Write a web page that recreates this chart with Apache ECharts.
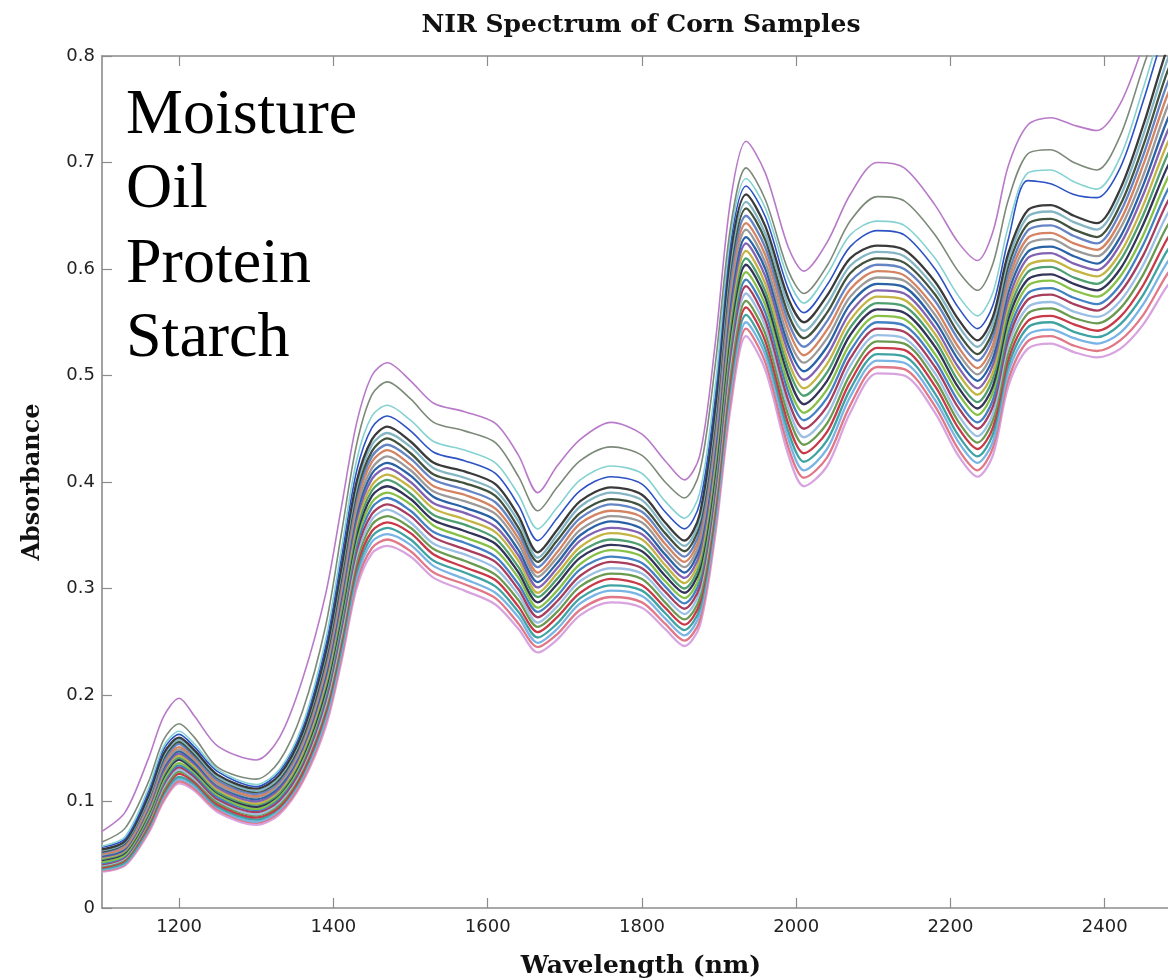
<!DOCTYPE html>
<html><head><meta charset="utf-8">
<script src="https://cdn.jsdelivr.net/npm/echarts@6/dist/echarts.min.js"></script>
<style>html,body{margin:0;padding:0;background:#fff}#chart{width:1168px;height:980px}</style>
</head><body><div id="chart"></div>
<script>
// Wavelength sample points (nm)
const wavelengths = [1100,1130,1160,1180,1200,1220,1250,1300,1330,1360,1390,1410,1430,1450,1470,1500,1530,1570,1610,1640,1665,1690,1720,1760,1800,1830,1855,1875,1895,1915,1935,1960,1990,2010,2040,2070,2105,2140,2180,2210,2235,2255,2275,2300,2330,2360,2390,2420,2450,2480,2500];
const xTickValues = [1200,1400,1600,1800,2000,2200,2400];
const constituents = ['Moisture','Oil','Protein','Starch'];
const chartTitle = 'NIR Spectrum of Corn Samples';
const xName = 'Wavelength (nm)';
const yName = 'Absorbance';

// Individually read outlying spectra (absorbance at each wavelength)
const sampleMagenta = [.072,.090,.140,.180,.197,.180,.152,.139,.160,.215,.295,.375,.455,.500,.512,.495,.474,.466,.455,.425,.390,.415,.440,.456,.445,.420,.402,.425,.530,.665,.720,.690,.620,.598,.625,.670,.700,.695,.660,.625,.608,.635,.697,.735,.742,.735,.730,.755,.810,.870,.900];
const sampleGray = [.062,.075,.118,.158,.173,.160,.132,.121,.138,.185,.265,.350,.435,.482,.494,.478,.456,.448,.437,.405,.373,.395,.420,.433,.425,.400,.385,.410,.510,.640,.695,.665,.598,.577,.603,.645,.668,.664,.632,.598,.580,.605,.665,.708,.712,.700,.693,.725,.790,.850,.880];
const sampleCyan = [.058,.067,.112,.152,.166,.154,.130,.116,.130,.172,.252,.335,.420,.462,.472,.458,.438,.430,.418,.388,.356,.376,.402,.415,.408,.382,.366,.390,.490,.632,.685,.657,.590,.568,.595,.632,.645,.641,.610,.575,.556,.578,.640,.690,.693,.682,.675,.705,.770,.840,.870];
const sampleBlue = [.057,.065,.109,.149,.163,.151,.128,.114,.128,.169,.246,.327,.410,.451,.462,.448,.428,.420,.408,.378,.345,.366,.392,.405,.398,.372,.356,.380,.480,.624,.678,.649,.581,.559,.585,.621,.636,.632,.600,.564,.544,.566,.628,.683,.680,.670,.667,.695,.758,.828,.858];

// Main band of spectra: one row per wavelength, one column per sample
const bandRows = [
[.034,.035,.036,.037,.038,.039,.040,.041,.042,.043,.045,.046,.047,.048,.049,.050,.051,.052,.053,.054,.055],
[.040,.041,.042,.043,.045,.046,.047,.048,.049,.050,.052,.053,.054,.055,.056,.057,.058,.060,.061,.062,.063],
[.070,.072,.074,.075,.077,.079,.081,.082,.084,.086,.088,.089,.091,.093,.095,.096,.098,.100,.102,.103,.105],
[.100,.102,.105,.107,.109,.111,.114,.116,.118,.120,.123,.125,.127,.129,.132,.134,.136,.138,.141,.143,.145],
[.117,.119,.121,.123,.126,.128,.130,.132,.134,.136,.139,.141,.143,.145,.147,.149,.151,.154,.156,.158,.160],
[.110,.112,.114,.116,.118,.120,.121,.123,.125,.127,.129,.131,.133,.135,.137,.139,.140,.142,.144,.146,.148],
[.090,.092,.094,.095,.097,.099,.101,.102,.104,.106,.108,.109,.111,.113,.115,.116,.118,.120,.122,.123,.125],
[.078,.080,.081,.083,.085,.087,.088,.090,.092,.093,.095,.097,.098,.100,.102,.104,.105,.107,.109,.110,.112],
[.088,.090,.092,.094,.095,.097,.099,.101,.103,.105,.107,.108,.110,.112,.114,.116,.118,.119,.121,.123,.125],
[.118,.120,.123,.125,.127,.130,.132,.134,.137,.139,.142,.144,.146,.149,.151,.153,.156,.158,.160,.163,.165],
[.170,.174,.177,.181,.184,.188,.191,.195,.198,.202,.205,.209,.212,.216,.219,.223,.226,.230,.233,.237,.240],
[.230,.234,.239,.243,.248,.252,.256,.261,.265,.270,.274,.278,.283,.287,.292,.296,.300,.305,.309,.314,.318],
[.300,.305,.310,.315,.320,.325,.330,.335,.340,.345,.350,.355,.360,.365,.370,.375,.380,.385,.390,.395,.400],
[.333,.338,.344,.349,.354,.360,.365,.370,.376,.381,.387,.392,.397,.403,.408,.413,.419,.424,.429,.435,.440],
[.340,.346,.351,.357,.362,.368,.374,.379,.385,.390,.396,.402,.407,.413,.418,.424,.430,.435,.441,.446,.452],
[.330,.335,.341,.346,.352,.357,.362,.368,.373,.379,.384,.389,.395,.400,.406,.411,.416,.422,.427,.433,.438],
[.310,.315,.321,.326,.332,.337,.342,.348,.353,.359,.364,.369,.375,.380,.386,.391,.396,.402,.407,.413,.418],
[.298,.304,.309,.315,.320,.326,.332,.337,.343,.348,.354,.360,.365,.371,.376,.382,.388,.393,.399,.404,.410],
[.285,.291,.296,.302,.308,.313,.319,.325,.330,.336,.342,.347,.353,.358,.364,.370,.375,.381,.387,.392,.398],
[.262,.267,.273,.278,.283,.289,.294,.299,.304,.310,.315,.320,.326,.331,.336,.342,.347,.352,.357,.363,.368],
[.240,.245,.249,.254,.259,.264,.268,.273,.278,.282,.287,.292,.296,.301,.306,.311,.315,.320,.325,.329,.334],
[.252,.257,.262,.267,.273,.278,.283,.288,.293,.298,.304,.309,.314,.319,.324,.329,.334,.340,.345,.350,.355],
[.275,.280,.286,.291,.296,.302,.307,.312,.318,.323,.329,.334,.339,.345,.350,.355,.361,.366,.371,.377,.382],
[.287,.292,.298,.303,.309,.314,.319,.325,.330,.336,.341,.346,.352,.357,.363,.368,.373,.379,.384,.390,.395],
[.282,.287,.293,.298,.303,.309,.314,.319,.324,.330,.335,.340,.346,.351,.356,.362,.367,.372,.377,.383,.388],
[.262,.267,.272,.277,.282,.287,.292,.297,.302,.307,.312,.317,.322,.327,.332,.337,.342,.347,.352,.357,.362],
[.246,.251,.256,.261,.266,.271,.276,.281,.286,.291,.296,.300,.305,.310,.315,.320,.325,.330,.335,.340,.345],
[.265,.270,.276,.281,.286,.291,.297,.302,.307,.312,.318,.323,.328,.333,.339,.344,.349,.354,.360,.365,.370],
[.350,.356,.362,.368,.374,.380,.386,.392,.398,.404,.410,.416,.422,.428,.434,.440,.446,.452,.458,.464,.470],
[.470,.477,.485,.492,.499,.506,.514,.521,.528,.535,.543,.550,.557,.564,.572,.579,.586,.593,.601,.608,.615],
[.537,.544,.550,.557,.564,.570,.577,.584,.590,.597,.604,.610,.617,.624,.630,.637,.643,.650,.657,.663,.670],
[.505,.512,.519,.525,.532,.539,.546,.552,.559,.566,.573,.579,.586,.593,.600,.606,.613,.620,.627,.633,.640],
[.425,.432,.440,.447,.454,.462,.469,.476,.484,.491,.499,.506,.513,.521,.528,.535,.543,.550,.557,.565,.572],
[.396,.404,.411,.419,.427,.435,.442,.450,.458,.465,.473,.481,.488,.496,.504,.512,.519,.527,.535,.542,.550],
[.415,.423,.431,.439,.447,.455,.463,.471,.479,.487,.495,.503,.511,.519,.527,.535,.543,.551,.559,.567,.575],
[.465,.472,.480,.487,.494,.501,.509,.516,.523,.530,.538,.545,.552,.559,.567,.574,.581,.588,.596,.603,.610],
[.502,.508,.514,.520,.526,.532,.538,.544,.550,.556,.562,.568,.574,.580,.586,.592,.598,.604,.610,.616,.622],
[.500,.506,.512,.518,.524,.530,.535,.541,.547,.553,.559,.565,.571,.577,.583,.589,.594,.600,.606,.612,.618],
[.465,.471,.477,.483,.490,.496,.502,.508,.514,.520,.527,.533,.539,.545,.551,.557,.563,.570,.576,.582,.588],
[.425,.431,.438,.444,.451,.457,.463,.470,.476,.483,.489,.495,.502,.508,.515,.521,.527,.534,.540,.547,.553],
[.405,.411,.418,.424,.431,.437,.443,.450,.456,.463,.469,.475,.482,.488,.495,.501,.507,.514,.520,.527,.533],
[.425,.432,.438,.445,.451,.458,.464,.471,.477,.484,.490,.497,.503,.510,.516,.523,.529,.536,.542,.549,.555],
[.490,.496,.503,.509,.515,.521,.528,.534,.540,.546,.553,.559,.565,.571,.578,.584,.590,.596,.603,.609,.615],
[.525,.532,.538,.545,.551,.558,.564,.571,.577,.584,.590,.597,.603,.610,.616,.623,.629,.636,.642,.649,.655],
[.530,.537,.543,.550,.556,.563,.569,.576,.582,.589,.595,.602,.608,.615,.621,.628,.634,.641,.647,.654,.660],
[.522,.528,.535,.541,.548,.554,.560,.567,.573,.580,.586,.592,.599,.605,.612,.618,.624,.631,.637,.644,.650],
[.517,.523,.530,.536,.542,.549,.555,.561,.567,.574,.580,.586,.593,.599,.605,.612,.618,.624,.630,.637,.643],
[.525,.533,.540,.548,.555,.563,.570,.578,.585,.593,.600,.608,.615,.623,.630,.638,.645,.653,.660,.668,.675],
[.548,.557,.567,.576,.585,.595,.604,.613,.623,.632,.642,.651,.660,.670,.679,.688,.698,.707,.716,.726,.735],
[.583,.594,.605,.616,.627,.639,.650,.661,.672,.683,.694,.705,.716,.727,.738,.750,.761,.772,.783,.794,.805],
[.600,.612,.624,.636,.648,.660,.672,.684,.696,.708,.720,.732,.744,.756,.768,.780,.792,.804,.816,.828,.840]
];

// Styles (kept separate from data)
const bandColors = ['#d8a4e0','#e07888','#78b4e4','#3fa3a3','#c83a48','#6a9a50','#9cc0e4','#a83e5e','#4282c4','#86c046','#34345a','#4ea072','#c4b444','#8262b2','#2a62a6','#9a9a9a','#d48462','#6484c4','#42523e','#84b6c4','#3a3a3a'];
const outlierStyles = [
  {values: sampleBlue, color: '#2c52c4'},
  {values: sampleCyan, color: '#86d2d2'},
  {values: sampleGray, color: '#7d8a7a'},
  {values: sampleMagenta, color: '#b87ac8'}
];

const series = [];
for (let k = 0; k < bandColors.length; k++) {
  series.push({
    type: 'line', silent: true, showSymbol: false, smooth: 0.3, clip: true,
    lineStyle: {width: 2.3, color: bandColors[k]},
    data: wavelengths.map((w, i) => [w, bandRows[i][k]])
  });
}
outlierStyles.forEach(s => {
  series.push({
    type: 'line', silent: true, showSymbol: false, smooth: 0.3, clip: true,
    lineStyle: {width: 1.6, color: s.color},
    data: wavelengths.map((w, i) => [w, s.values[i]])
  });
});

const axisGray = '#8c8c8c';
const labelFont = {fontFamily: 'DejaVu Sans', fontSize: 18, color: '#222'};
// visible wavelength window (the right edge of the frame is cut at ~2482 nm)
const xMin = 1100, xMax = 2482;

const chart = echarts.init(document.getElementById('chart'), null, {renderer: 'canvas'});
chart.setOption({
  animation: false,
  backgroundColor: '#ffffff',
  grid: {left: 102, top: 56, right: 0, bottom: 72},
  xAxis: [{
    type: 'value', min: xMin, max: xMax, position: 'bottom',
    axisLine: {show: true, onZero: false, lineStyle: {color: axisGray, width: 1.6}},
    axisTick: {show: true, inside: true, length: 10, customValues: xTickValues, lineStyle: {color: axisGray, width: 1.2}},
    axisLabel: Object.assign({customValues: xTickValues, margin: 10, formatter: v => String(v)}, labelFont),
    splitLine: {show: false}
  }, {
    type: 'value', min: xMin, max: xMax, position: 'top',
    axisLine: {show: true, onZero: false, lineStyle: {color: axisGray, width: 1.6}},
    axisTick: {show: true, inside: true, length: 10, customValues: xTickValues, lineStyle: {color: axisGray, width: 1.2}},
    axisLabel: {show: false},
    splitLine: {show: false}
  }],
  yAxis: {
    type: 'value', min: 0, max: 0.8, interval: 0.1,
    axisLine: {show: true, onZero: false, lineStyle: {color: axisGray, width: 1.6}},
    axisTick: {show: true, inside: true, length: 10, lineStyle: {color: axisGray, width: 1.2}},
    axisLabel: Object.assign({margin: 7, formatter: v => (v === 0 ? '0' : v.toFixed(1))}, labelFont),
    splitLine: {show: false}
  },
  graphic: [
    {type: 'text', x: 641, y: 25, style: {text: chartTitle, font: 'bold 25px "DejaVu Serif"', fill: '#111', align: 'center', verticalAlign: 'middle'}},
    {type: 'text', x: 641, y: 966, style: {text: xName, font: 'bold 25px "DejaVu Serif"', fill: '#111', align: 'center', verticalAlign: 'middle'}},
    {type: 'text', x: 33, y: 482, rotation: Math.PI / 2, style: {text: yName, font: 'bold 24px "DejaVu Serif"', fill: '#111', align: 'center', verticalAlign: 'middle'}}
  ].concat(constituents.map((c, i) => ({
    type: 'text', x: 126, y: 116 + i * 74.5,
    style: {text: c, font: '64px "Liberation Serif"', fill: '#000', align: 'left', verticalAlign: 'middle'}
  }))),
  series: series
});
</script>
</body></html>
